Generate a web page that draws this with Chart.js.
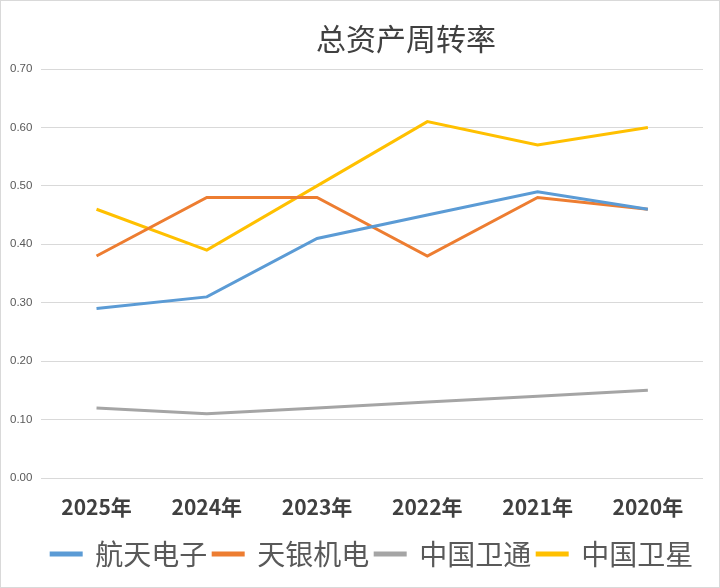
<!DOCTYPE html>
<html>
<head>
<meta charset="utf-8">
<script src="https://cdn.jsdelivr.net/npm/chart.js@4"></script>
<style>
  html, body { margin: 0; padding: 0; background: #fff; }
  .wrap { position: relative; width: 718px; height: 586px; border: 1px solid #d9d9d9; }
  .title {
    position: absolute; left: 0; width: 810px; top: 16px; text-align: center;
    font-family: 'Noto Sans CJK SC'; font-size: 30px; color: #404040; line-height: 40px;
  }
</style>
</head>
<body>
<div class="wrap">
  <canvas id="lineChart" width="718" height="586"></canvas>
  <div class="title">总资产周转率</div>
</div>
<script>
const years = ["2025年", "2024年", "2023年", "2022年", "2021年", "2020年"];
const htdz = [0.29, 0.31, 0.41, 0.45, 0.49, 0.46];
const tyjd = [0.38, 0.48, 0.48, 0.38, 0.48, 0.46];
const zgwt = [0.12, 0.11, 0.12, 0.13, 0.14, 0.15];
const zgwx = [0.46, 0.39, 0.50, 0.61, 0.57, 0.60];

document.addEventListener("DOMContentLoaded", function () {
    const ctx = document.getElementById("lineChart").getContext("2d");

    function series(label, values, color) {
        return {
            label: label,
            data: values,
            borderColor: color,
            backgroundColor: color,
            borderWidth: 3,
            pointRadius: 0,
            tension: 0,
        };
    }

    new Chart(ctx, {
        type: "line",
        data: {
            labels: years,
            datasets: [
                series("航天电子", htdz, "#5B9BD5"),
                series("天银机电", tyjd, "#ED7D31"),
                series("中国卫通", zgwt, "#A5A5A5"),
                series("中国卫星", zgwx, "#FFC000"),
            ],
        },
        options: {
            responsive: false,
            animation: false,
            layout: { padding: { left: 0, right: 16, top: 68, bottom: 9 } },
            plugins: {
                title: { display: false },
                legend: {
                    position: "bottom",
                    fullSize: false,
                    labels: {
                        color: "#595959",
                        font: { family: "'Noto Sans CJK SC'", size: 28 },
                        boxWidth: 30,
                        boxHeight: 2,
                        padding: 6,
                    },
                },
                tooltip: { enabled: false },
            },
            scales: {
                x: {
                    offset: true,
                    grid: { display: false },
                    border: { display: false },
                    ticks: {
                        color: "#404040",
                        font: { family: "'Noto Sans CJK SC'", size: 21, weight: "bold" },
                        padding: 8,
                    },
                    afterFit: function (axis) { axis.height = 56; },
                },
                y: {
                    min: 0,
                    max: 0.7,
                    grid: { color: "#d9d9d9", drawTicks: false },
                    border: { display: false },
                    ticks: {
                        stepSize: 0.1,
                        color: "#595959",
                        font: { family: "'Liberation Sans'", size: 11.5 },
                        padding: 9,
                        callback: function (v) { return v.toFixed(2); },
                    },
                },
            },
        },
    });
});
</script>
</body>
</html>
